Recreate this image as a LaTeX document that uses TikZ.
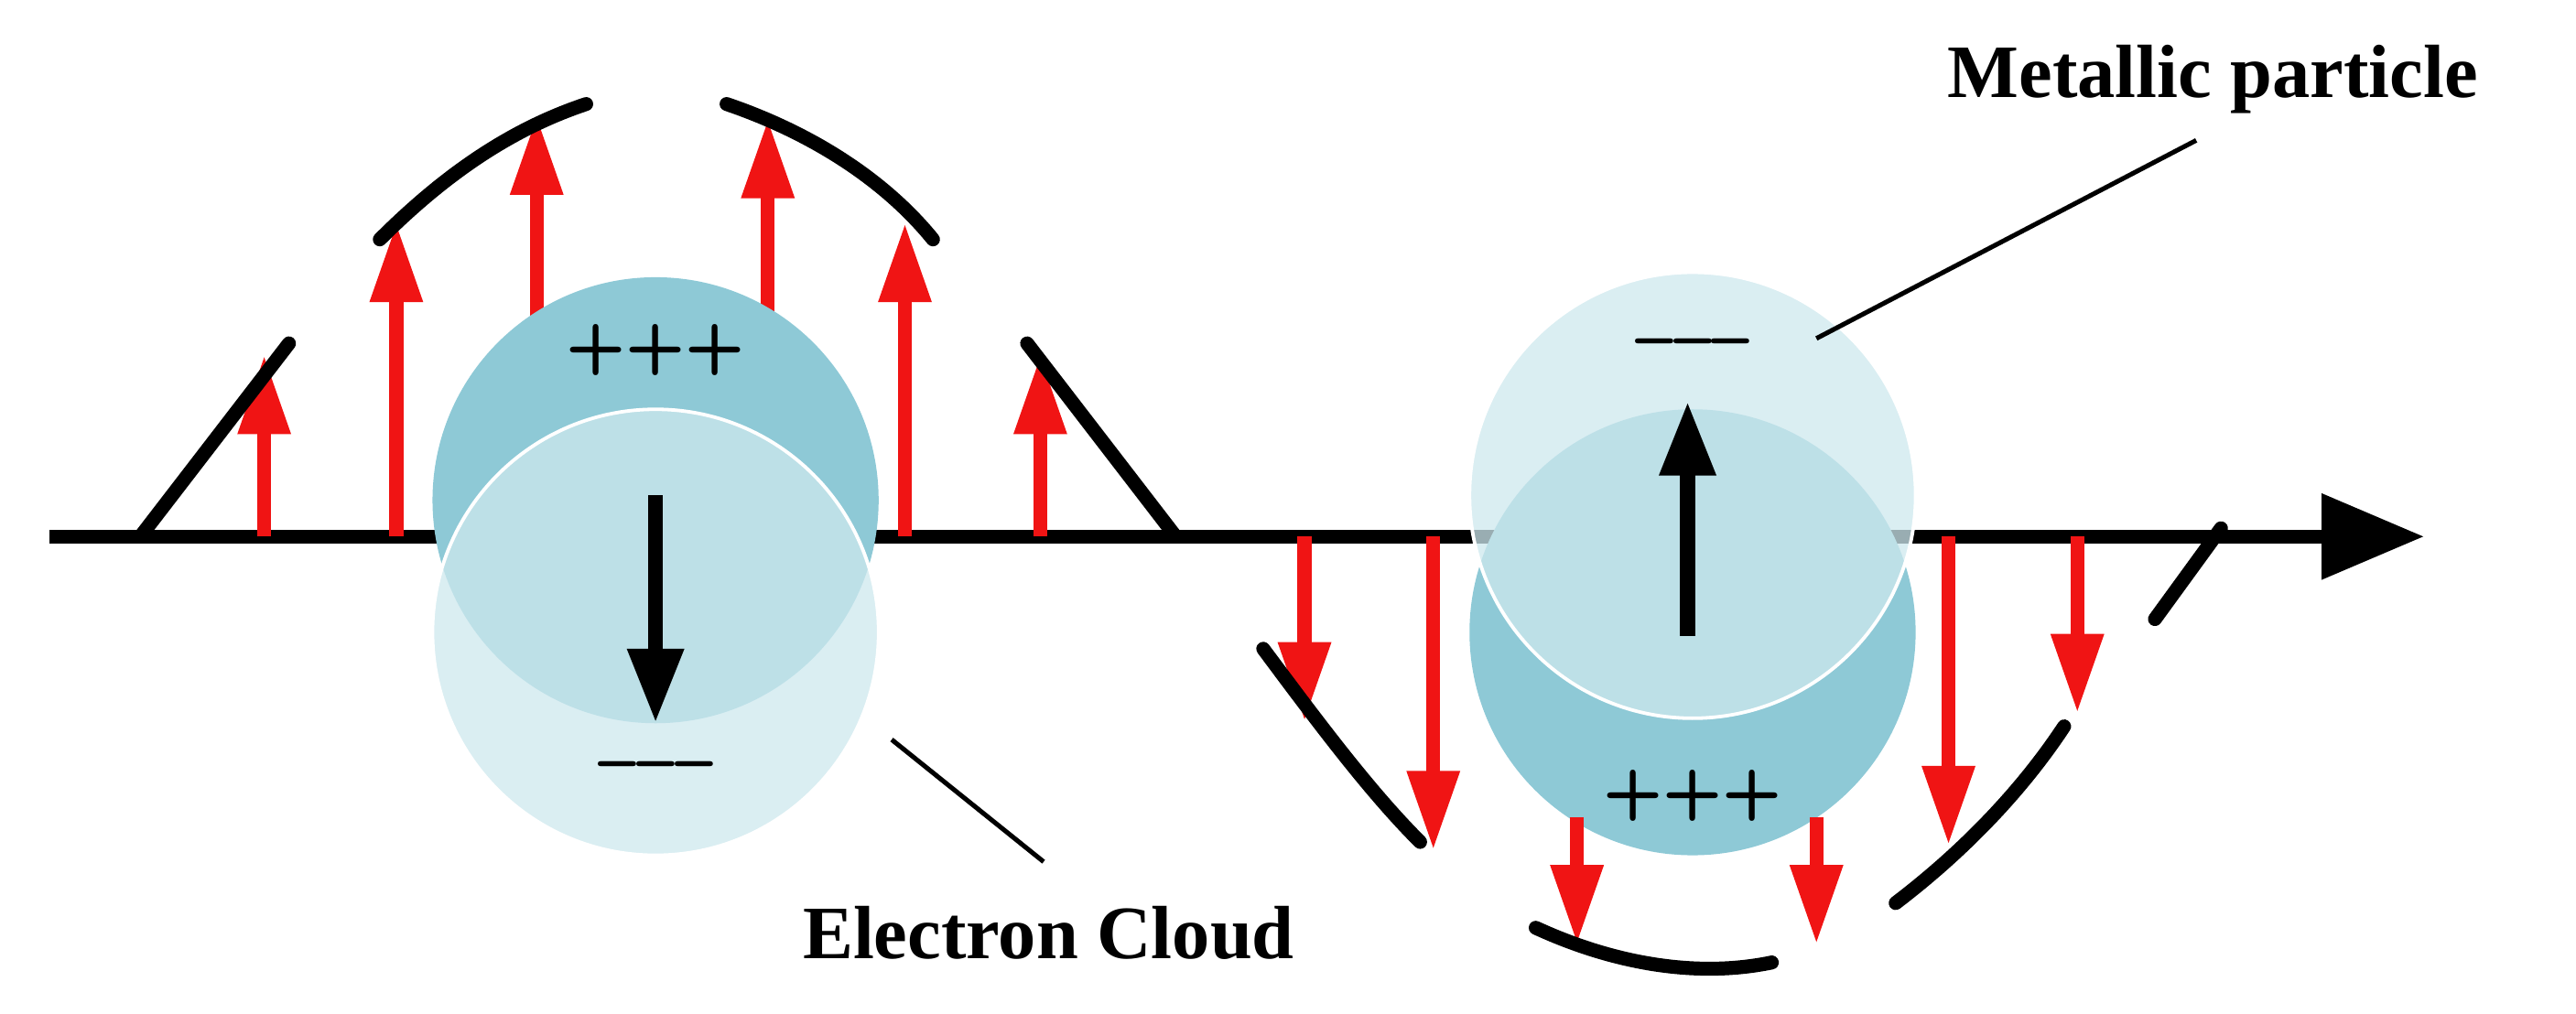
\documentclass[tikz,border=0pt]{standalone}
\usepackage{fontspec}
\setmainfont{Liberation Serif}
\usetikzlibrary{arrows.meta}
\begin{document}
\begin{tikzpicture}[x=0.01cm,y=-0.01cm,
 blk/.style={line width=2.4pt,line cap=round},
 red/.style={draw={rgb,255:red,240;green,20;blue,20},line width=2.4pt,-{Triangle[length=0.48cm,width=0.3cm]}},
 barr/.style={draw=black,line width=2.6pt,-{Triangle[length=0.45cm,width=0.32cm]}},
 dark/.style={fill={rgb,255:red,142;green,201;blue,214}},
 light/.style={fill={rgb,255:red,205;green,232;blue,238},fill opacity=0.75,draw=white,line width=0.6pt},
 lab/.style={font=\bfseries\fontsize{13}{16}\selectfont},
 sgn/.style={font=\sffamily\bfseries\fontsize{12}{15}\selectfont}]
\useasboundingbox (0,0) rectangle (1560,614);
% axis
\coordinate (a0) at (30,325); \coordinate (a1) at (1468,325);
\draw[line width=2.4pt,-{Triangle[length=0.62cm,width=0.5cm]}] (a0) -- (a1);
% red arrows (upper)
\foreach \x/\a/\b in {160/325/215,240/325/135,325/195/70,465/195/72,548/325/135,630/325/215}
  \draw[red] (\x,\a) -- (\x,\b);
% upper envelope
\draw[blk] (85,325) -- (175,208);
\draw[blk] (230,145) .. controls (270,105) and (310,78) .. (355,63);
\draw[blk] (440,63) .. controls (490,80) and (535,108) .. (565,145);
\draw[blk] (622,208) -- (712,325);
% left particle
\node[circle,dark,minimum size=2.7cm,inner sep=0] (Ld) at (397,303) {};
\node[circle,light,minimum size=2.7cm,inner sep=0] (Ll) at (397,383) {};
\node[sgn] (Lp) at (397,212) {+++};
\node[sgn] (Lm) at (397,468) {–––};
\coordinate (L1) at (397,300); \coordinate (L2) at (397,438);
\draw[barr] (L1) -- (L2);
% lower red arrows
\foreach \x/\a/\b in {790/325/437,868/325/515,1180/325/512,1258/325/432}
  \draw[red] (\x,\a) -- (\x,\b);
% right particle
\node[circle,dark,minimum size=2.7cm,inner sep=0] (Rd) at (1025,383) {};
\node[circle,light,minimum size=2.7cm,inner sep=0] (Rl) at (1025,300) {};
\foreach \x in {955,1100} \draw[red] (\x,495) -- (\x,572);
\node[sgn] (Rm) at (1025,212) {–––};
\node[sgn] (Rp) at (1025,482) {+++};
\coordinate (R1) at (1022,385); \coordinate (R2) at (1022,243);
\draw[barr] (R1) -- (R2);
% lower envelope
\draw[blk] (765,393) .. controls (800,440) and (830,480) .. (860,510);
\draw[blk] (930,562) .. controls (980,585) and (1030,592) .. (1073,583);
\draw[blk] (1148,547) .. controls (1190,515) and (1225,478) .. (1250,440);
\draw[blk] (1305,375) -- (1345,320);
% labels
\node[lab] (mp) at (1340,48) {Metallic particle};
\coordinate (mp1) at (1330,85); \coordinate (mp2) at (1100,205);
\draw[line width=0.8pt] (mp1) -- (mp2);
\node[lab] (ec) at (635,565) {Electron Cloud};
\coordinate (ec1) at (540,448); \coordinate (ec2) at (632,522);
\draw[line width=0.8pt] (ec1) -- (ec2);
\end{tikzpicture}
\end{document}
